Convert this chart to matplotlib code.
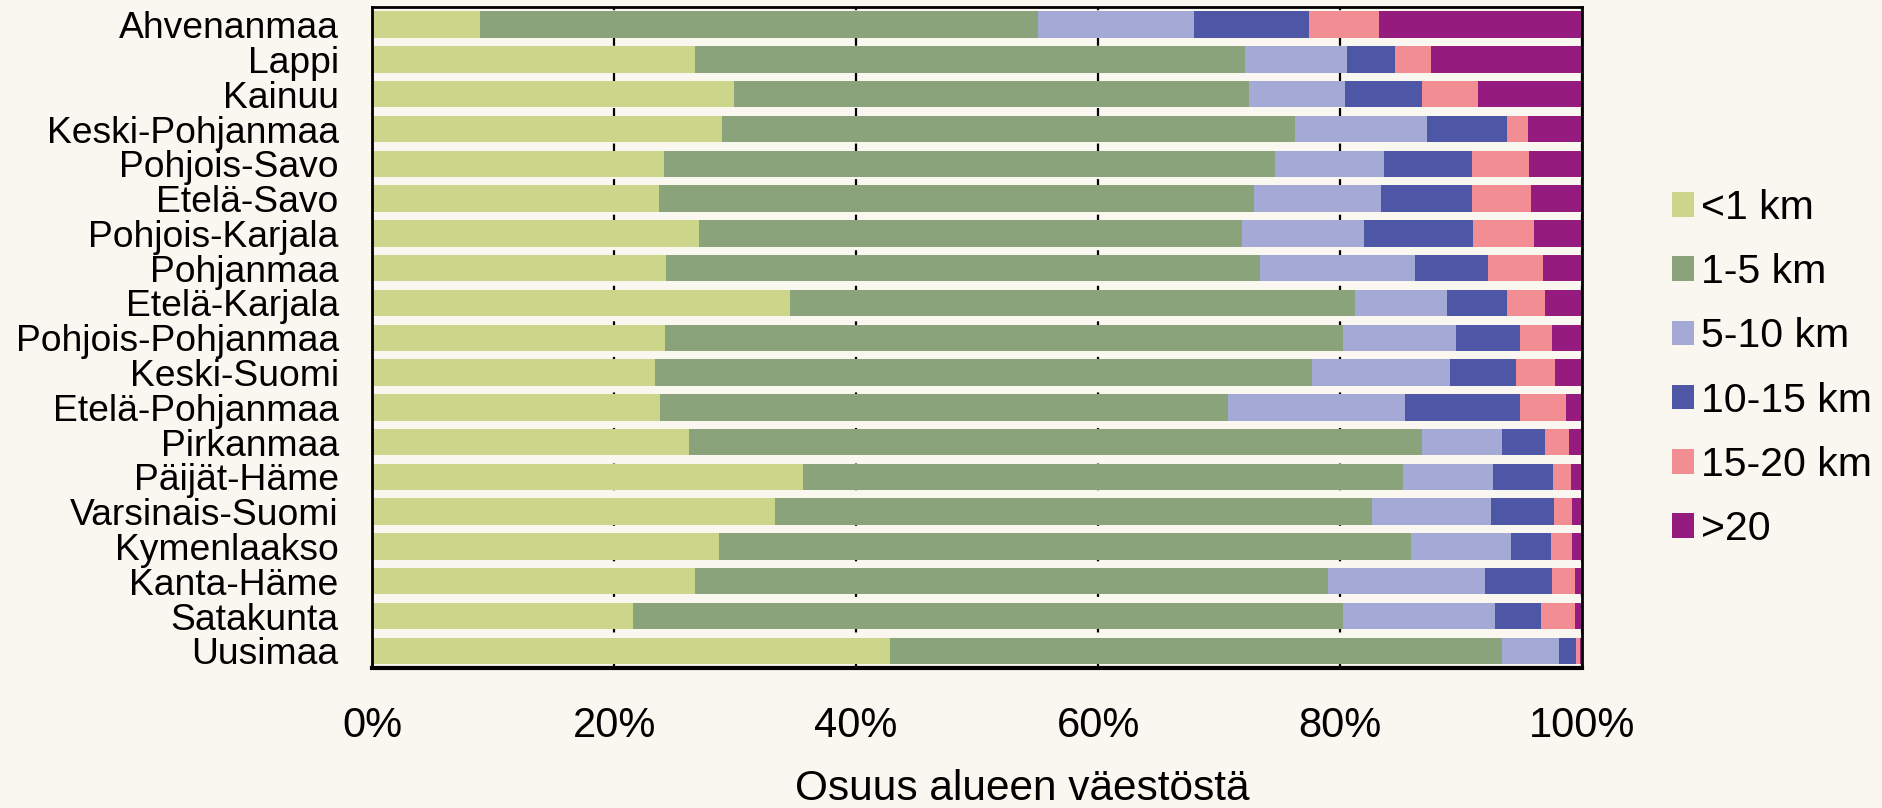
import numpy as np
import matplotlib
matplotlib.use("Agg")
import matplotlib.pyplot as plt

plt.rcParams['font.family'] = ['Liberation Sans', 'DejaVu Sans']

# Alueet ylhäältä alas
alueet = ["Ahvenanmaa", "Lappi", "Kainuu", "Keski-Pohjanmaa", "Pohjois-Savo",
          "Etelä-Savo", "Pohjois-Karjala", "Pohjanmaa", "Etelä-Karjala",
          "Pohjois-Pohjanmaa", "Keski-Suomi", "Etelä-Pohjanmaa", "Pirkanmaa",
          "Päijät-Häme", "Varsinais-Suomi", "Kymenlaakso", "Kanta-Häme",
          "Satakunta", "Uusimaa"]

luokat = ["<1 km", "1-5 km", "5-10 km", "10-15 km", "15-20 km", ">20"]

# osuudet (%) etäisyysluokittain
alle_1 = [8.9, 26.7, 29.9, 28.9, 24.1, 23.7, 27.0, 24.3, 34.5, 24.2,
          23.4, 23.8, 26.2, 35.6, 33.3, 28.7, 26.7, 21.6, 42.8]
km_1_5 = [46.1, 45.4, 42.6, 47.4, 50.5, 49.2, 44.9, 49.1, 46.7, 56.0,
          54.3, 46.9, 60.6, 49.6, 49.3, 57.2, 52.3, 58.6, 50.6]
km_5_10 = [12.9, 8.5, 7.9, 10.9, 9.0, 10.5, 10.1, 12.8, 7.6, 9.4,
           11.4, 14.7, 6.6, 7.4, 9.9, 8.2, 13.0, 12.6, 4.7]
km_10_15 = [9.5, 3.9, 6.4, 6.6, 7.3, 7.5, 9.0, 6.0, 5.0, 5.3,
            5.4, 9.5, 3.5, 5.0, 5.2, 3.3, 5.5, 3.8, 1.4]
km_15_20 = [5.8, 3.0, 4.6, 1.7, 4.7, 4.9, 5.0, 4.6, 3.1, 2.6,
            3.3, 3.8, 2.0, 1.5, 1.5, 1.8, 1.9, 2.8, 0.3]
yli_20 = [16.8, 12.5, 8.6, 4.5, 4.4, 4.2, 4.0, 3.2, 3.1, 2.5,
          2.2, 1.3, 1.1, 0.9, 0.8, 0.8, 0.6, 0.6, 0.2]

varit = ["#cbd68a", "#8ba37a", "#a4a9d6", "#4e56a6", "#f28d94", "#951b7e"]
tausta = "#faf6f0"

sarjat = [alle_1, km_1_5, km_5_10, km_10_15, km_15_20, yli_20]
data = np.array(sarjat, dtype=float)
data = data / data.sum(axis=0) * 100

fig = plt.figure(figsize=(18.83, 8.08), dpi=100, facecolor=tausta)
ax = fig.add_axes([0.1976, 0.173, 0.6426, 0.818])
ax.set_facecolor(tausta)

y = np.arange(len(alueet))
vasen = np.zeros(len(alueet))
for arvot, nimi, vari in zip(data, luokat, varit):
    ax.barh(y, arvot, left=vasen, height=0.76, color=vari, label=nimi, zorder=3)
    vasen += arvot

ax.set_xlim(0, 100)
ax.set_ylim(len(alueet) - 0.5, -0.5)
ax.set_yticks(y)
ax.set_yticklabels(alueet, fontsize=26.8)
ax.set_xticks([0, 20, 40, 60, 80, 100])
ax.set_xticklabels(["0%", "20%", "40%", "60%", "80%", "100%"], fontsize=30)
ax.tick_params(axis='y', length=0, pad=24)
ax.tick_params(axis='x', length=0, pad=27)
ax.set_xlabel("Osuus alueen väestöstä", fontsize=30.5, va="center")
ax.xaxis.set_label_coords(0.537, -0.182)

ax.xaxis.grid(True, color="black", linestyle=(0, (4, 4)), linewidth=1.6, zorder=1)
ax.set_axisbelow(True)
for s in ["left", "top", "right"]:
    ax.spines[s].set_linewidth(2)
ax.spines["bottom"].set_linewidth(3)
for s in ax.spines.values():
    s.set_zorder(4)

ax.legend(loc="center left", bbox_to_anchor=(0.877, 0.544),
          bbox_transform=fig.transFigure, frameon=False, fontsize=29.5,
          handlelength=0.55, handleheight=0.55, handletextpad=0.15,
          labelspacing=0.64, borderpad=0)

fig.savefig("out.png", dpi=100, facecolor=tausta)
